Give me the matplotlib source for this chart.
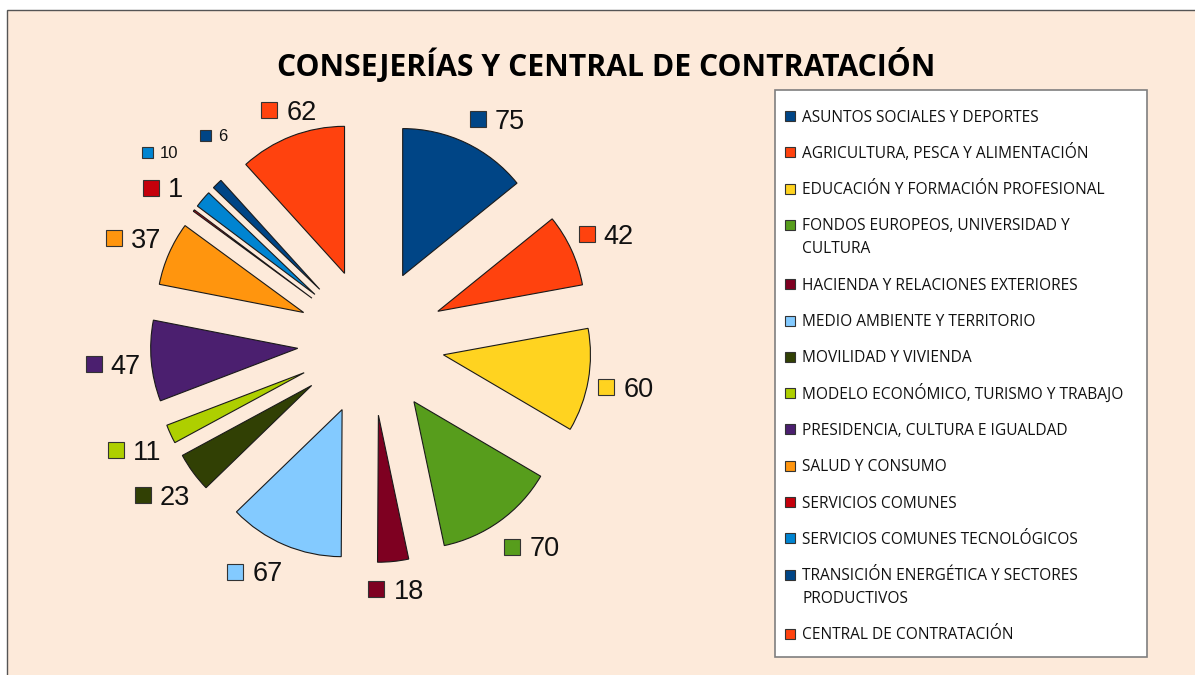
import numpy as np
import matplotlib.pyplot as plt
from matplotlib.patches import Rectangle
from matplotlib.transforms import offset_copy

consejerias = [
    "ASUNTOS SOCIALES Y DEPORTES",
    "AGRICULTURA, PESCA Y ALIMENTACIÓN",
    "EDUCACIÓN Y FORMACIÓN PROFESIONAL",
    "FONDOS EUROPEOS, UNIVERSIDAD Y\nCULTURA",
    "HACIENDA Y RELACIONES EXTERIORES",
    "MEDIO AMBIENTE Y TERRITORIO",
    "MOVILIDAD Y VIVIENDA",
    "MODELO ECONÓMICO, TURISMO Y TRABAJO",
    "PRESIDENCIA, CULTURA E IGUALDAD",
    "SALUD Y CONSUMO",
    "SERVICIOS COMUNES",
    "SERVICIOS COMUNES TECNOLÓGICOS",
    "TRANSICIÓN ENERGÉTICA Y SECTORES\nPRODUCTIVOS",
    "CENTRAL DE CONTRATACIÓN",
]
valores = [75, 42, 60, 70, 18, 67, 23, 11, 47, 37, 1, 10, 6, 62]
colores = [
    "#004586", "#ff420e", "#ffd320", "#579d1c", "#7e0021", "#83caff", "#314004",
    "#aecf00", "#4b1f6f", "#ff950e", "#c5000b", "#0084d1", "#004586", "#ff420e",
]
titulo = "CONSEJERÍAS Y CENTRAL DE CONTRATACIÓN"

W, H = 1195, 675
FONDO = "#fdeada"

fig = plt.figure(figsize=(W / 100, H / 100), dpi=100)
fig.patch.set_facecolor("white")

# marco de fondo
fig.patches.append(Rectangle((7 / W, -0.02), 1.05, 1 - 10 / H + 0.02, transform=fig.transFigure,
                             facecolor=FONDO, edgecolor="#555555", lw=1, zorder=-5))

# --------------------
# tarta explotada
# --------------------
ax = fig.add_axes([121 / W, 83 / H, 500 / W, 500 / H])
ax.set_zorder(2)
ax.pie(valores, colors=colores, startangle=90, counterclock=False,
       explode=[0.5] * len(valores), radius=1,
       wedgeprops=dict(edgecolor="#1a1a1a", linewidth=0.8))
ax.set_xlim(-1.7, 1.7)
ax.set_ylim(-1.7, 1.7)
ax.set_aspect("equal")
ax.axis("off")

total = sum(valores)
medio = np.cumsum(valores) - np.array(valores) / 2
angulos = 90 - medio / total * 360

# ajustes de posicion de etiquetas (radio, angulo)
ajustes = {0: (1.74, -4), 3: (1.77, 2.4), 4: (1.69, 0), 5: (1.75, -3.7),
           11: (1.93, -1.6), 12: (1.77, -7), 13: (1.67, -1.6)}
pequenas = [11, 12]

for i, v in enumerate(valores):
    r, da = ajustes.get(i, (1.76, 0))
    a = np.deg2rad(angulos[i] + da)
    x, y = r * np.cos(a), r * np.sin(a)
    fs = 12 if i in pequenas else 19.5
    sq = 11 if i in pequenas else 16
    gap = 7 if i in pequenas else 9
    fpx = fs * 100 / 72
    tw = len(str(v)) * 0.556 * fpx
    left = -(sq + gap + tw) / 2
    ax.plot([x], [y], marker="s", ms=sq * 0.72, mfc=colores[i], mec="#333333", mew=0.8,
            clip_on=False,
            transform=offset_copy(ax.transData, fig=fig, x=left + sq / 2, y=0, units="dots"))
    ax.text(x, y, str(v), fontsize=fs, family="Liberation Sans", color="#111111",
            ha="left", va="baseline", clip_on=False,
            transform=offset_copy(ax.transData, fig=fig, x=left + sq + gap,
                                  y=-0.716 * fpx / 2, units="dots"))

# titulo
fig.text(606 / W, 1 - 65 / H, titulo, ha="center", va="center", fontsize=21.7,
         fontweight="bold", family="Open Sans")

# --------------------
# leyenda
# --------------------
fig.patches.append(Rectangle((775 / W, 1 - 657 / H), 372 / W, 567 / H, transform=fig.transFigure,
                             facecolor="white", edgecolor="#7f7f7f", lw=1.2, zorder=1))
fs_ley = 11.2
cap = 0.714 * fs_ley * 100 / 72
yy = 116
for nombre, c in zip(consejerias, colores):
    fig.patches.append(Rectangle((785 / W, 1 - (yy + 5) / H), 10 / W, 10 / H,
                                 transform=fig.transFigure, facecolor=c,
                                 edgecolor="#333333", lw=0.8, zorder=2))
    lineas = nombre.split("\n")
    for k, linea in enumerate(lineas):
        fig.text(802 / W, 1 - (yy + k * 23 + cap / 2) / H, linea, ha="left", va="baseline",
                 fontsize=fs_ley, family="Open Sans", color="#111111", zorder=3)
    yy += 36.3 + (len(lineas) - 1) * 23

fig.savefig("out.png", dpi=100)
